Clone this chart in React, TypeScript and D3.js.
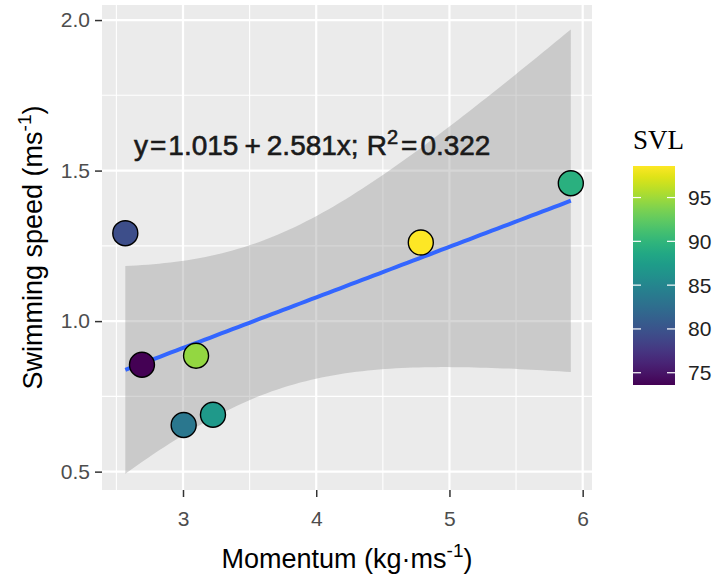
import React, { useEffect, useRef } from "react";
import {
  select,
  scaleLinear,
  scaleSequential,
  interpolateViridis,
  axisLeft,
  axisBottom,
  format,
  line,
  area,
  range,
  extent,
  mean,
  sum,
} from "d3";

// values
const momentum = [2.567, 2.692, 3.098, 3.005, 3.225, 4.785, 5.911];
const speed = [1.292, 0.855, 0.885, 0.655, 0.689, 1.261, 1.458];
const svl = [79.5, 73.6, 94.5, 83.5, 87, 98.6, 89.5];

const xTicks = [3, 4, 5, 6];
const xMinor = [2.5, 3.5, 4.5, 5.5];
const yTicks = [0.5, 1.0, 1.5, 2.0];
const yMinor = [0.75, 1.25, 1.75];
const svlTicks = [75, 80, 85, 90, 95];
const xLimits = [2.392, 6.07];
const yLimits = [0.439, 2.05];

// t quantile (0.975) for 5 degrees of freedom
const T_CRIT = 2.570582;

const W = 719;
const H = 582;
const panel = { left: 102, top: 5, right: 592, bottom: 490 };
const SANS = "'Liberation Sans', Arial, sans-serif";

const App = () => {
  const svgRef = useRef<SVGSVGElement | null>(null);

  useEffect(() => {
    const svg = select(svgRef.current);
    svg.selectAll("*").remove();

    const x = scaleLinear().domain(xLimits).range([panel.left, panel.right]);
    const y = scaleLinear().domain(yLimits).range([panel.bottom, panel.top]);
    const [svlMin, svlMax] = extent(svl) as [number, number];
    const color = scaleSequential(interpolateViridis).domain([svlMin, svlMax]);

    // panel + grid
    svg
      .append("rect")
      .attr("x", panel.left)
      .attr("y", panel.top)
      .attr("width", panel.right - panel.left)
      .attr("height", panel.bottom - panel.top)
      .attr("fill", "#ebebeb");

    const grid = svg.append("g").attr("stroke", "#fff");
    grid
      .selectAll(".xminor")
      .data(xMinor)
      .join("line")
      .attr("x1", (d) => x(d))
      .attr("x2", (d) => x(d))
      .attr("y1", panel.top)
      .attr("y2", panel.bottom)
      .attr("stroke-width", 1.1);
    grid
      .selectAll(".yminor")
      .data(yMinor)
      .join("line")
      .attr("y1", (d) => y(d))
      .attr("y2", (d) => y(d))
      .attr("x1", panel.left)
      .attr("x2", panel.right)
      .attr("stroke-width", 1.1);
    grid
      .selectAll(".xmajor")
      .data(xTicks)
      .join("line")
      .attr("x1", (d) => x(d))
      .attr("x2", (d) => x(d))
      .attr("y1", panel.top)
      .attr("y2", panel.bottom)
      .attr("stroke-width", 2.2);
    grid
      .selectAll(".ymajor")
      .data(yTicks)
      .join("line")
      .attr("y1", (d) => y(d))
      .attr("y2", (d) => y(d))
      .attr("x1", panel.left)
      .attr("x2", panel.right)
      .attr("stroke-width", 2.2);

    // linear fit with 95% confidence band (geom_smooth, method = "lm")
    const mx = mean(momentum) as number;
    const my = mean(speed) as number;
    const sxx = sum(momentum, (v) => (v - mx) ** 2);
    const sxy = sum(momentum, (v, i) => (v - mx) * (speed[i] - my));
    const slope = sxy / sxx;
    const icpt = my - slope * mx;
    const n = momentum.length;
    const sse = sum(momentum, (v, i) => (speed[i] - (icpt + slope * v)) ** 2);
    const s = Math.sqrt(sse / (n - 2));
    const [x0, x1] = extent(momentum) as [number, number];
    const fit = range(80).map((i) => {
      const xv = x0 + ((x1 - x0) * i) / 79;
      const yv = icpt + slope * xv;
      const half = T_CRIT * s * Math.sqrt(1 / n + (xv - mx) ** 2 / sxx);
      return { x: xv, y: yv, lo: yv - half, hi: yv + half };
    });

    svg
      .append("path")
      .datum(fit)
      .attr("fill", "#999999")
      .attr("fill-opacity", 0.4)
      .attr(
        "d",
        area<any>()
          .x((d) => x(d.x))
          .y0((d) => y(d.lo))
          .y1((d) => y(d.hi)),
      );

    svg
      .append("path")
      .datum(fit)
      .attr("fill", "none")
      .attr("stroke", "#3366FF")
      .attr("stroke-width", 4)
      .attr(
        "d",
        line<any>()
          .x((d) => x(d.x))
          .y((d) => y(d.y)),
      );

    // points
    svg
      .append("g")
      .selectAll("circle")
      .data(momentum)
      .join("circle")
      .attr("cx", (d) => x(d))
      .attr("cy", (d, i) => y(speed[i]))
      .attr("r", 12.5)
      .attr("fill", (d, i) => color(svl[i]))
      .attr("stroke", "#000")
      .attr("stroke-width", 1.4);

    // equation label
    const eq = svg
      .append("text")
      .attr("x", 134)
      .attr("y", 155)
      .attr("font-family", SANS)
      .attr("font-size", 28)
      .attr("fill", "#1a1a1a")
      .attr("stroke", "#1a1a1a")
      .attr("stroke-width", 0.6);
    eq.append("tspan").text("y");
    eq.append("tspan").attr("dx", 2).text("=");
    eq.append("tspan").attr("dx", 2).text("1.015");
    eq.append("tspan").attr("dx", 6).text("+");
    eq.append("tspan").attr("dx", 6).text("2.581x;");
    eq.append("tspan").attr("dx", 8).text("R");
    eq.append("tspan").attr("dy", -11).attr("font-size", 20).text("2");
    eq.append("tspan").attr("dy", 11).attr("dx", 3).text("=");
    eq.append("tspan").attr("dx", 3).text("0.322");

    // axes
    const yAxis = axisLeft(y)
      .tickValues(yTicks)
      .tickFormat(format(".1f"))
      .tickSize(7)
      .tickPadding(5);
    svg
      .append("g")
      .attr("transform", `translate(${panel.left},0)`)
      .call(yAxis)
      .call((g) => g.select(".domain").remove())
      .call((g) => g.selectAll(".tick line").attr("stroke", "#333").attr("stroke-width", 1.5))
      .call((g) =>
        g
          .selectAll("text")
          .attr("fill", "#4d4d4d")
          .attr("font-family", SANS)
          .attr("font-size", 21),
      );

    const xAxis = axisBottom(x)
      .tickValues(xTicks)
      .tickFormat(format("d"))
      .tickSize(7)
      .tickPadding(14);
    svg
      .append("g")
      .attr("transform", `translate(0,${panel.bottom})`)
      .call(xAxis)
      .call((g) => g.select(".domain").remove())
      .call((g) => g.selectAll(".tick line").attr("stroke", "#333").attr("stroke-width", 1.5))
      .call((g) =>
        g
          .selectAll("text")
          .attr("fill", "#4d4d4d")
          .attr("font-family", SANS)
          .attr("font-size", 21),
      );

    // axis titles
    const xt = svg
      .append("text")
      .attr("x", (panel.left + panel.right) / 2)
      .attr("y", 568)
      .attr("text-anchor", "middle")
      .attr("font-family", SANS)
      .attr("font-size", 27)
      .attr("fill", "#000");
    xt.append("tspan").text("Momentum (kg\u00b7ms");
    xt.append("tspan").attr("dy", -11).attr("font-size", 19).text("-1");
    xt.append("tspan").attr("dy", 11).text(")");

    const yt = svg
      .append("text")
      .attr(
        "transform",
        `translate(42,${(panel.top + panel.bottom) / 2}) rotate(-90)`,
      )
      .attr("text-anchor", "middle")
      .attr("font-family", SANS)
      .attr("font-size", 27)
      .attr("fill", "#000");
    yt.append("tspan").text("Swimming speed (ms");
    yt.append("tspan").attr("dy", -11).attr("font-size", 19).text("-1");
    yt.append("tspan").attr("dy", 11).text(")");

    // colour bar legend
    const bar = { left: 633, right: 675, top: 166, bottom: 385 };
    const ly = scaleLinear().domain([svlMin, svlMax]).range([bar.bottom, bar.top]);
    const grad = svg
      .append("defs")
      .append("linearGradient")
      .attr("id", "svlGrad")
      .attr("x1", "0%")
      .attr("x2", "0%")
      .attr("y1", "100%")
      .attr("y2", "0%");
    grad
      .selectAll("stop")
      .data(range(0, 1.0001, 0.05))
      .join("stop")
      .attr("offset", (d) => `${d * 100}%`)
      .attr("stop-color", (d) => interpolateViridis(d));

    svg
      .append("rect")
      .attr("x", bar.left)
      .attr("y", bar.top)
      .attr("width", bar.right - bar.left)
      .attr("height", bar.bottom - bar.top)
      .attr("fill", "url(#svlGrad)");

    const lt = svg.append("g");
    lt.selectAll(".tl")
      .data(svlTicks)
      .join("line")
      .attr("x1", bar.left)
      .attr("x2", bar.left + 8)
      .attr("y1", (d) => ly(d))
      .attr("y2", (d) => ly(d))
      .attr("stroke", "#fff")
      .attr("stroke-width", 1.2);
    lt.selectAll(".tr")
      .data(svlTicks)
      .join("line")
      .attr("x1", bar.right - 8)
      .attr("x2", bar.right)
      .attr("y1", (d) => ly(d))
      .attr("y2", (d) => ly(d))
      .attr("stroke", "#fff")
      .attr("stroke-width", 1.2);
    lt.selectAll("text")
      .data(svlTicks)
      .join("text")
      .attr("x", 688)
      .attr("y", (d) => ly(d))
      .attr("dy", "0.36em")
      .attr("font-family", SANS)
      .attr("font-size", 21)
      .attr("fill", "#222")
      .text((d) => d);

    svg
      .append("text")
      .attr("x", bar.left)
      .attr("y", 149)
      .attr("font-family", "'Liberation Serif', 'Times New Roman', serif")
      .attr("font-size", 27)
      .attr("fill", "#000")
      .text("SVL");
  }, []);

  return (
    <div style={{ position: "absolute", left: 0, top: 0 }}>
      <svg ref={svgRef} width={W} height={H} style={{ display: "block", background: "#fff" }} />
    </div>
  );
};

export default App;
